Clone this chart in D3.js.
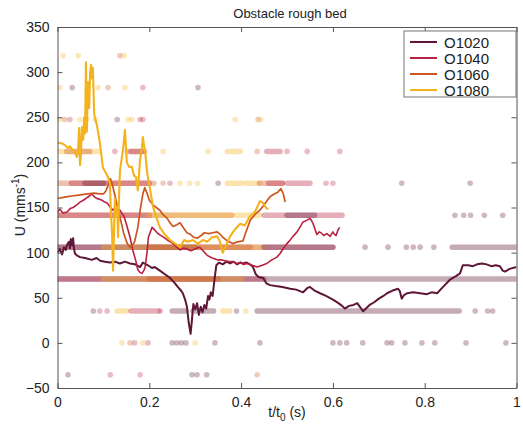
<!DOCTYPE html>
<html>
<head>
<meta charset="utf-8">
<script src="https://d3js.org/d3.v7.min.js"></script>
<style>
  body { margin: 0; background: #fff; }
  svg text { font-family: "Liberation Sans", Arial, sans-serif; fill: #222; }
</style>
</head>
<body>
<script>

// series names and colours
var series = ["O1020", "O1040", "O1060", "O1080"];
var colors = ["#5e1736", "#b8213f", "#cc5520", "#f4b21c"];

var xTicks = [0, 0.2, 0.4, 0.6, 0.8, 1];
var yTicks = [-50, 0, 50, 100, 150, 200, 250, 300, 350];

// velocity is quantised in steps of this size (rows of dots)
var quantum = 35.36;

// lines: [t/t0, U]
var o1020 = [[0,100],[0.005,104],[0.01,98],[0.014,106],[0.018,103],[0.021,109],[0.025,112],[0.027,105],[0.029,115],[0.032,108],[0.034,116],[0.036,104],[0.038,99],[0.042,97],[0.049,95],[0.06,94],[0.075,92],[0.085,94],[0.093,91],[0.103,90],[0.114,89],[0.125,90],[0.136,88],[0.147,90],[0.158,88],[0.169,87],[0.18,84],[0.186,89],[0.197,86],[0.206,83],[0.212,84],[0.223,80],[0.234,76],[0.245,72],[0.256,66],[0.262,62],[0.269,58],[0.273,55],[0.278,48],[0.282,40],[0.286,22],[0.29,10],[0.293,26],[0.296,43],[0.3,37],[0.304,44],[0.308,31],[0.312,40],[0.316,34],[0.32,42],[0.324,38],[0.328,52],[0.331,48],[0.334,56],[0.338,52],[0.342,70],[0.346,86],[0.352,89],[0.36,87],[0.368,90],[0.376,88],[0.384,90],[0.391,87],[0.398,89],[0.404,88],[0.412,89],[0.419,87],[0.426,84],[0.432,76],[0.438,73],[0.448,72],[0.455,66],[0.463,64],[0.475,63],[0.49,62],[0.507,60],[0.52,59],[0.535,56],[0.545,61],[0.55,62],[0.56,58],[0.572,55],[0.585,52],[0.6,48],[0.612,44],[0.62,41],[0.626,38],[0.635,41],[0.645,42],[0.653,44],[0.66,39],[0.666,35],[0.672,38],[0.68,42],[0.69,45],[0.7,49],[0.71,52],[0.718,55],[0.73,58],[0.742,60],[0.746,57],[0.75,49],[0.755,53],[0.762,55],[0.775,56],[0.79,55],[0.805,54],[0.815,56],[0.827,55],[0.84,62],[0.855,70],[0.868,74],[0.877,77],[0.883,86],[0.895,86],[0.905,85],[0.914,87],[0.925,88],[0.935,87],[0.945,85],[0.955,86],[0.964,85],[0.97,80],[0.975,79],[0.985,82],[1,84]];

var o1040 = [[0,145],[0.005,148],[0.012,144],[0.021,145],[0.028,149],[0.034,150],[0.042,153],[0.049,156],[0.056,158],[0.062,160],[0.07,163],[0.075,165],[0.08,162],[0.086,160],[0.092,159],[0.097,158],[0.103,156],[0.108,155],[0.114,151],[0.121,147],[0.126,150],[0.13,149],[0.136,147],[0.141,143],[0.145,140],[0.151,130],[0.158,117],[0.164,103],[0.171,90],[0.175,81],[0.18,78],[0.184,77],[0.188,80],[0.191,84],[0.195,100],[0.198,117],[0.206,128],[0.212,125],[0.217,122],[0.222,120],[0.228,118],[0.234,116],[0.239,114],[0.246,112],[0.252,110],[0.26,106],[0.267,103],[0.275,105],[0.282,104],[0.29,102],[0.295,103],[0.303,105],[0.31,106],[0.319,101],[0.326,97],[0.337,94],[0.348,92],[0.357,92],[0.365,91],[0.374,90],[0.382,90],[0.39,88],[0.398,89],[0.405,87],[0.413,88],[0.424,86],[0.435,84],[0.446,86],[0.456,88],[0.467,92],[0.478,95],[0.485,99],[0.491,104],[0.5,110],[0.507,114],[0.513,118],[0.522,123],[0.528,128],[0.535,134],[0.544,136],[0.55,138],[0.554,135],[0.557,132],[0.561,126],[0.565,120],[0.57,123],[0.574,122],[0.58,119],[0.587,121],[0.594,118],[0.6,123],[0.604,120],[0.607,119],[0.611,125],[0.615,128]];

var o1060 = [[0,160],[0.01,161],[0.022,162],[0.035,163],[0.05,164],[0.065,165],[0.08,166],[0.092,165],[0.1,165],[0.105,168],[0.11,174],[0.115,182],[0.118,178],[0.123,168],[0.13,152],[0.138,135],[0.145,120],[0.152,110],[0.158,106],[0.163,108],[0.168,112],[0.175,128],[0.181,150],[0.186,165],[0.19,172],[0.195,166],[0.2,158],[0.21,152],[0.223,147],[0.23,142],[0.239,138],[0.245,133],[0.252,129],[0.26,131],[0.267,133],[0.275,127],[0.282,122],[0.29,120],[0.297,117],[0.304,116],[0.313,119],[0.32,122],[0.33,121],[0.338,122],[0.348,123],[0.355,120],[0.36,117],[0.37,113],[0.382,110],[0.392,112],[0.404,113],[0.41,122],[0.42,136],[0.43,142],[0.441,147],[0.45,153],[0.463,162],[0.472,165],[0.48,167],[0.487,171],[0.492,165],[0.496,156]];

var o1080 = [[0,222],[0.01,221],[0.016,219],[0.023,216],[0.027,218],[0.032,214],[0.038,212],[0.042,206],[0.045,214],[0.047,238],[0.049,197],[0.051,208],[0.053,239],[0.056,225],[0.058,250],[0.06,232],[0.062,311],[0.064,234],[0.066,289],[0.069,260],[0.071,300],[0.073,308],[0.075,293],[0.077,305],[0.08,253],[0.086,241],[0.093,219],[0.099,194],[0.108,186],[0.114,178],[0.116,150],[0.119,120],[0.121,80],[0.123,120],[0.125,160],[0.127,140],[0.13,151],[0.132,117],[0.134,160],[0.136,190],[0.14,205],[0.143,215],[0.147,236],[0.151,200],[0.156,195],[0.162,195],[0.167,185],[0.171,184],[0.175,169],[0.18,203],[0.184,217],[0.186,228],[0.188,220],[0.191,212],[0.195,190],[0.202,169],[0.208,151],[0.217,137],[0.223,128],[0.234,120],[0.245,114],[0.256,110],[0.267,106],[0.276,114],[0.284,112],[0.295,114],[0.306,110],[0.317,114],[0.326,112],[0.337,117],[0.348,118],[0.354,112],[0.36,100],[0.367,108],[0.376,118],[0.387,126],[0.398,132],[0.408,130],[0.419,140],[0.43,145],[0.441,157],[0.448,155],[0.454,150],[0.459,148]];

var lines = [o1020, o1040, o1060, o1080];

// dense stretches of dots: [row (multiples of quantum), t start, t end, series]
var dotRuns = [
  [6, 0.0, 0.09, 3], [6, 0.02, 0.07, 2], [6, 0.152, 0.19, 2], [6, 0.16, 0.185, 1], [6, 0.37, 0.398, 3], [6, 0.456, 0.485, 1],
  [5, 0.0, 0.21, 2], [5, 0.03, 0.2, 1], [5, 0.06, 0.1, 0], [5, 0.37, 0.4, 3], [5, 0.41, 0.44, 3], [5, 0.44, 0.49, 2], [5, 0.46, 0.49, 1], [5, 0.5, 0.55, 1],
  [4, 0.0, 0.38, 2], [4, 0.0, 0.2, 1], [4, 0.2, 0.38, 3], [4, 0.39, 0.44, 3], [4, 0.45, 0.62, 1], [4, 0.5, 0.56, 0],
  [3, 0.0, 0.6, 1], [3, 0.0, 0.3, 0], [3, 0.1, 0.45, 3], [3, 0.2, 0.42, 2], [3, 0.45, 0.6, 0], [3, 0.86, 1.0, 0],
  [2, 0.0, 1.0, 0], [2, 0.0, 0.45, 1], [2, 0.1, 0.4, 3], [2, 0.2, 0.35, 2],
  [1, 0.13, 0.15, 3], [1, 0.16, 0.22, 1], [1, 0.25, 0.28, 0], [1, 0.295, 0.34, 0], [1, 0.36, 0.375, 3], [1, 0.435, 0.875, 0]
];

// single dots: [row, t, series]
var dotSingles = [
  [9, 0.012, 3], [9, 0.045, 3], [9, 0.136, 2], [9, 0.145, 3],
  [8, 0.005, 3], [8, 0.032, 0], [8, 0.088, 3], [8, 0.11, 2], [8, 0.147, 3], [8, 0.186, 1], [8, 0.306, 0],
  [7, 0.005, 3], [7, 0.016, 2], [7, 0.027, 1], [7, 0.049, 3], [7, 0.064, 3], [7, 0.082, 3], [7, 0.13, 0], [7, 0.154, 3], [7, 0.162, 3], [7, 0.18, 1], [7, 0.186, 1], [7, 0.387, 3], [7, 0.437, 2], [7, 0.443, 3],
  [6, 0.125, 1], [6, 0.23, 3], [6, 0.328, 3], [6, 0.435, 2], [6, 0.5, 1], [6, 0.544, 1], [6, 0.615, 1],
  [5, 0.23, 2], [5, 0.245, 1], [5, 0.267, 3], [5, 0.288, 3], [5, 0.305, 3], [5, 0.35, 0], [5, 0.585, 1], [5, 0.6, 1], [5, 0.75, 0], [5, 0.899, 0],
  [4, 0.866, 0], [4, 0.885, 0], [4, 0.9, 0], [4, 0.93, 0], [4, 0.97, 0],
  [3, 0.67, 0], [3, 0.72, 0], [3, 0.76, 0], [3, 0.775, 0], [3, 0.79, 0], [3, 0.82, 0],
  [1, 0.078, 0], [1, 0.092, 1], [1, 0.108, 1], [1, 0.224, 1], [1, 0.39, 0], [1, 0.41, 3], [1, 0.91, 0], [1, 0.937, 0], [1, 0.948, 0],
  [0, 0.14, 3], [0, 0.158, 2], [0, 0.168, 1], [0, 0.186, 3], [0, 0.197, 1], [0, 0.25, 0], [0, 0.26, 0], [0, 0.27, 0], [0, 0.28, 0], [0, 0.3, 3], [0, 0.343, 0], [0, 0.441, 0], [0, 0.6, 0], [0, 0.615, 0], [0, 0.63, 0], [0, 0.665, 0], [0, 0.718, 0], [0, 0.728, 0], [0, 0.757, 0], [0, 0.794, 0], [0, 0.822, 0], [0, 0.89, 0], [0, 0.977, 0],
  [-1, 0.023, 0], [-1, 0.115, 1], [-1, 0.18, 1], [-1, 0.293, 0], [-1, 0.304, 0], [-1, 0.325, 0], [-1, 0.435, 2]
];

var margin = {top: 27, right: 6.5, bottom: 37, left: 57.5};
var W = 523, H = 425;
var w = W - margin.left - margin.right;
var h = H - margin.top - margin.bottom;

var svg = d3.select("body").append("svg")
  .attr("width", W)
  .attr("height", H);

var g = svg.append("g")
  .attr("transform", `translate(${margin.left},${margin.top})`);

var x = d3.scaleLinear().domain([0, 1]).range([0, w]);
var y = d3.scaleLinear().domain([-50, 350]).range([h, 0]);

// clip so nothing spills over the box
svg.append("clipPath").attr("id", "plotclip")
  .append("rect").attr("width", w).attr("height", h);

var plot = g.append("g").attr("clip-path", "url(#plotclip)");

// dot rows
plot.selectAll(".run")
  .data(dotRuns)
  .enter()
  .append("line")
  .attr("x1", d => x(d[1]))
  .attr("x2", d => x(d[2]))
  .attr("y1", d => y(d[0] * quantum))
  .attr("y2", d => y(d[0] * quantum))
  .attr("stroke", d => colors[d[3]])
  .attr("stroke-width", 5.5)
  .attr("stroke-linecap", "round")
  .attr("stroke-opacity", 0.36);

plot.selectAll(".dot")
  .data(dotSingles)
  .enter()
  .append("circle")
  .attr("cx", d => x(d[1]))
  .attr("cy", d => y(d[0] * quantum))
  .attr("r", 2.8)
  .attr("fill", d => colors[d[2]])
  .attr("fill-opacity", 0.3);

// lines
var line = d3.line()
  .x(d => x(d[0]))
  .y(d => y(d[1]));

var widths = [2, 1.6, 1.7, 2.1];

plot.selectAll(".series")
  .data(lines)
  .enter()
  .append("path")
  .attr("d", line)
  .attr("fill", "none")
  .attr("stroke", (d, i) => colors[i])
  .attr("stroke-width", (d, i) => widths[i])
  .attr("stroke-linejoin", "round");

// axes, matlab style box with inward ticks
function styleAxis(sel) {
  sel.selectAll("path").attr("stroke", "#555");
  sel.selectAll("line").attr("stroke", "#555");
  sel.selectAll("text").style("font-size", "14px").attr("fill", "#222");
}

g.append("g")
  .attr("transform", `translate(0,${h})`)
  .call(d3.axisBottom(x).tickValues(xTicks).tickSizeInner(-5).tickSizeOuter(0).tickPadding(9)
    .tickFormat(d => d === 0 || d === 1 ? d3.format("d")(d) : d3.format(".1f")(d)))
  .call(styleAxis);

g.append("g")
  .call(d3.axisTop(x).tickValues(xTicks).tickSizeInner(-5).tickSizeOuter(0).tickFormat(""))
  .call(styleAxis);

g.append("g")
  .call(d3.axisLeft(y).tickValues(yTicks).tickSizeInner(-5).tickSizeOuter(0).tickPadding(8))
  .call(styleAxis);

g.append("g")
  .attr("transform", `translate(${w},0)`)
  .call(d3.axisRight(y).tickValues(yTicks).tickSizeInner(-5).tickSizeOuter(0).tickFormat(""))
  .call(styleAxis);

// title
svg.append("text")
  .attr("x", 290)
  .attr("y", 18)
  .attr("text-anchor", "middle")
  .style("font-size", "13px")
  .text("Obstacle rough bed");

// x label
var xl = svg.append("text")
  .attr("x", 287)
  .attr("y", 417)
  .attr("text-anchor", "middle")
  .style("font-size", "14px");
xl.append("tspan").text("t/t");
xl.append("tspan").attr("dy", 4).style("font-size", "10px").text("0");
xl.append("tspan").attr("dy", -4).text(" (s)");

// y label
var yl = svg.append("text")
  .attr("transform", "translate(25,205) rotate(-90)")
  .attr("text-anchor", "middle")
  .style("font-size", "14px");
yl.append("tspan").text("U (mms");
yl.append("tspan").attr("dy", -6).style("font-size", "10px").text("-1");
yl.append("tspan").attr("dy", 6).text(")");

// legend
var legend = svg.append("g").attr("transform", "translate(404,31)");
legend.append("rect")
  .attr("width", 112)
  .attr("height", 66)
  .attr("fill", "#fff")
  .attr("stroke", "#777");

var items = legend.selectAll(".item")
  .data(series)
  .enter()
  .append("g")
  .attr("transform", (d, i) => `translate(0,${11 + i * 16})`);

items.append("line")
  .attr("x1", 6).attr("x2", 33)
  .attr("stroke", (d, i) => colors[i])
  .attr("stroke-width", 2);

items.append("text")
  .attr("x", 40)
  .attr("y", 5.5)
  .style("font-size", "15px")
  .text(d => d);

</script>
</body>
</html>
